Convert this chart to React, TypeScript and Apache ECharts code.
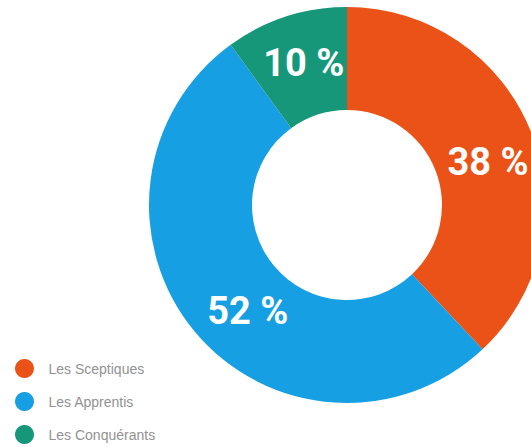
import React, { useEffect, useRef } from "react";
import * as echarts from "echarts";

const categories = ["Les Sceptiques", "Les Apprentis", "Les Conquérants"];
const values = [38, 52, 10];
const colors = ["#EA5217", "#169FE2", "#16977A"];
const labelOffsets = [[2, 12], [16, 11], [3, 0]];

export default function App() {
  const ref = useRef<HTMLDivElement>(null);
  useEffect(() => {
    document.body.style.margin = "0";
    const chart = echarts.init(ref.current!, null, { renderer: "svg" });
    chart.setOption({
      animation: false,
      backgroundColor: "#ffffff",
      legend: {
        orient: "vertical",
        left: 10,
        top: 354,
        height: 100,
        icon: "circle",
        itemWidth: 30,
        itemHeight: 19,
        itemGap: 14,
        textStyle: {
          color: "#929292",
          fontSize: 14,
          fontFamily: "Liberation Sans",
          padding: [0, 0, 0, 4],
        },
        data: categories,
      },
      series: [
        {
          type: "pie",
          center: [347, 205],
          radius: [95, 198],
          startAngle: 90,
          clockwise: true,
          silent: true,
          label: {
            show: true,
            position: "inside",
            formatter: "{c} %",
            color: "#ffffff",
            fontSize: 38,
            fontWeight: "bold",
            fontFamily: "Roboto",
          },
          labelLine: { show: false },
          data: categories.map((name, i) => ({
            name,
            value: values[i],
            itemStyle: { color: colors[i] },
            label: { offset: labelOffsets[i] },
          })),
        },
      ],
    });
    return () => chart.dispose();
  }, []);
  return <div ref={ref} style={{ width: 531, height: 447 }} />;
}
